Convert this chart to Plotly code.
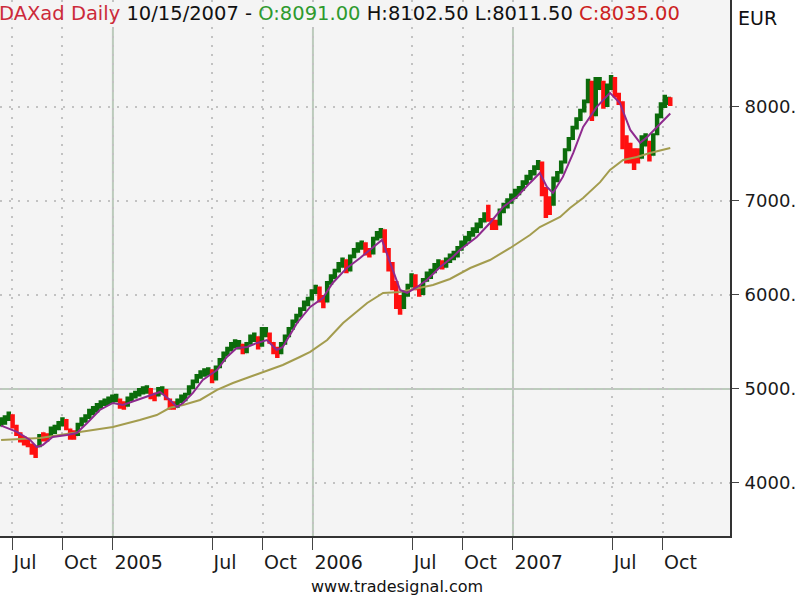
import pandas as pd
import plotly.graph_objects as go

# ---------------- data ----------------
bar_dates = [d.strftime("%Y-%m-%d") for d in pd.date_range("2004-06-11", "2007-10-12", freq="W-FRI")] + ["2007-10-15"]

bar_open = [4610,4640,4680,4720,4600,4520,4490,4440,4400,4390,4390,4530,4510,4490,4540,4580,4620,4670,4570,4520,
            4510,4610,4660,4700,4740,4770,4810,4840,4850,4870,4880,4890,4850,4820,4880,4920,4940,4960,4970,5000,
            4940,4930,4960,4990,4880,4850,4810,4860,4890,4940,5010,5070,5130,5150,5160,5200,5100,5230,5300,5370,
            5420,5450,5450,5470,5390,5480,5520,5550,5460,5570,5580,5490,5420,5380,5480,5560,5640,5710,5780,5850,
            5900,5950,6030,6080,5980,5930,6120,6180,6250,6300,6370,6260,6400,6460,6500,6550,6470,6440,6590,6620,
            6690,6480,6300,6100,5950,5860,5990,6090,6200,6080,6010,6150,6190,6240,6290,6360,6300,6350,6390,6410,
            6480,6530,6580,6630,6670,6720,6780,6940,6800,6780,6750,6880,6930,6980,7030,7070,7120,7180,7230,7280,
            7340,7400,7100,7020,6960,7210,7300,7410,7540,7660,7770,7860,7950,8050,8260,7910,8200,8260,8010,8190,
            8300,8130,8050,7650,7600,7540,7520,7460,7590,7620,7490,7710,7890,8000,8040,8091]
bar_high = [4700,4720,4760,4730,4620,4540,4500,4480,4420,4400,4520,4540,4530,4600,4620,4660,4700,4680,4580,4560,
            4640,4700,4730,4790,4820,4850,4880,4900,4920,4940,4950,4900,4870,4920,4960,4980,5010,5030,5040,5010,
            4960,5020,5030,5000,4900,4870,4900,4940,4960,5040,5100,5160,5200,5220,5230,5210,5250,5330,5400,5450,
            5500,5530,5520,5480,5500,5580,5600,5560,5660,5660,5600,5500,5450,5500,5580,5660,5740,5800,5870,5940,
            5980,6060,6110,6090,6000,6150,6220,6280,6350,6400,6380,6430,6500,6560,6580,6560,6500,6620,6680,6713,
            6700,6500,6350,6150,6000,6050,6120,6230,6220,6100,6180,6250,6280,6340,6380,6370,6400,6440,6470,6520,
            6580,6630,6680,6720,6770,6820,6880,6960,6820,6800,6920,6980,7030,7080,7130,7160,7220,7280,7330,7380,
            7437,7420,7150,7050,7260,7320,7430,7560,7680,7800,7890,7980,8080,8300,8280,8320,8320,8280,8250,8340,
            8320,8150,8060,7700,7620,7560,7560,7700,7720,7640,7720,7930,8050,8130,8110,8102.5]
bar_low = [4600,4620,4660,4580,4500,4430,4400,4380,4300,4266,4380,4440,4440,4480,4520,4560,4600,4560,4460,4460,
           4500,4600,4640,4680,4720,4750,4790,4820,4830,4850,4860,4790,4780,4810,4870,4900,4920,4940,4950,4890,
           4870,4920,4940,4880,4780,4780,4800,4850,4870,4930,5000,5060,5110,5130,5140,5060,5090,5220,5290,5350,
           5400,5430,5420,5370,5380,5470,5500,5420,5450,5550,5480,5370,5330,5370,5470,5550,5630,5700,5760,5830,
           5880,5940,6010,5920,5860,5920,6110,6170,6240,6290,6230,6250,6390,6450,6480,6420,6400,6430,6580,6600,
           6450,6250,6050,5850,5790,5850,5980,6080,6050,5980,6000,6140,6170,6230,6280,6270,6290,6340,6370,6400,
           6470,6520,6570,6620,6660,6710,6770,6780,6690,6690,6740,6870,6920,6970,7020,7060,7110,7170,7220,7270,
           7330,7050,6820,6850,6950,7200,7290,7400,7530,7650,7760,7850,7940,8040,7850,7900,8180,7980,8000,8180,
           8100,8020,7550,7400,7400,7330,7400,7450,7580,7420,7480,7700,7880,7990,8020,8011.5]
bar_close = [4680,4700,4730,4600,4520,4460,4430,4400,4330,4300,4500,4470,4480,4580,4600,4640,4680,4580,4490,4500,
             4620,4680,4710,4770,4800,4830,4860,4880,4900,4920,4930,4810,4820,4900,4940,4960,4990,5010,5020,4910,
             4900,5000,5010,4900,4820,4810,4880,4920,4940,5020,5080,5140,5180,5200,5210,5100,5230,5310,5380,5430,
             5480,5500,5490,5390,5480,5560,5580,5450,5630,5620,5500,5400,5360,5480,5560,5640,5720,5780,5850,5920,
             5960,6040,6090,5950,5900,6130,6200,6260,6330,6380,6260,6410,6480,6540,6560,6440,6430,6600,6660,6690,
             6480,6280,6100,5900,5850,6020,6100,6210,6070,6000,6160,6230,6260,6320,6360,6290,6380,6420,6450,6500,
             6560,6610,6660,6700,6750,6800,6860,6800,6720,6740,6900,6960,7010,7060,7110,7140,7200,7260,7310,7360,
             7410,7080,6880,6900,7230,7300,7410,7540,7660,7780,7870,7960,8060,8260,7900,8250,8280,8020,8220,8310,
             8130,8050,7600,7450,7480,7400,7460,7650,7680,7480,7700,7900,8030,8110,8090,8035]

fast_ma_dates = ["2004-06-11","2004-07-10","2004-08-03","2004-08-15","2004-08-26","2004-09-13","2004-10-09","2004-10-27",
                 "2004-11-15","2004-12-08","2005-01-01","2005-01-19","2005-02-14","2005-03-10","2005-03-28","2005-04-15",
                 "2005-04-28","2005-05-09","2005-05-27","2005-06-14","2005-07-10","2005-07-28","2005-08-15","2005-09-03",
                 "2005-09-21","2005-10-09","2005-10-27","2005-11-07","2005-12-03","2005-12-27","2006-01-19","2006-02-06",
                 "2006-03-04","2006-03-28","2006-04-21","2006-05-07","2006-05-22","2006-06-09","2006-06-22","2006-07-10",
                 "2006-07-28","2006-08-21","2006-09-13","2006-09-26","2006-10-27","2006-11-20","2006-12-14","2007-01-08",
                 "2007-02-01","2007-02-19","2007-03-04","2007-03-15","2007-04-02","2007-04-21","2007-05-09","2007-06-03",
                 "2007-06-27","2007-07-15","2007-08-03","2007-08-21","2007-09-03","2007-09-21","2007-10-15"]
fast_ma = [4610,4543,4458,4383,4404,4489,4511,4532,4638,4777,4851,4830,4883,4936,4968,4883,
           4809,4851,4958,5096,5202,5341,5436,5447,5490,5521,5415,5447,5702,5873,5968,6128,
           6288,6394,6511,6585,6341,6054,6022,6085,6160,6298,6404,6479,6617,6766,6937,7043,
           7192,7298,7149,7085,7256,7511,7788,8001,8150,8043,7756,7618,7681,7788,7930]

slow_ma_dates = ["2004-06-11","2004-08-21","2004-09-26","2004-11-02","2005-01-01","2005-02-19","2005-03-22","2005-04-15",
                 "2005-05-09","2005-06-09","2005-07-10","2005-08-08","2005-09-08","2005-10-09","2005-11-07","2005-12-08",
                 "2005-12-27","2006-01-27","2006-02-25","2006-04-10","2006-05-09","2006-06-09","2006-07-10","2006-08-08",
                 "2006-09-08","2006-10-15","2006-11-20","2006-12-27","2007-02-01","2007-02-19","2007-03-10","2007-03-28",
                 "2007-04-15","2007-05-09","2007-06-09","2007-06-27","2007-07-21","2007-08-15","2007-09-08","2007-10-15"]
slow_ma = [4457,4479,4510,4543,4596,4670,4723,4800,4830,4883,4990,5064,5128,5200,5255,5340,
           5394,5521,5702,5915,6021,6032,6074,6106,6170,6287,6372,6500,6638,6723,6777,6830,
           6925,7032,7200,7330,7436,7468,7510,7564]

x_tick_vals = ["2004-07-01","2004-10-01","2005-01-01","2005-07-01","2005-10-01","2006-01-01",
               "2006-07-01","2006-10-01","2007-01-01","2007-07-01","2007-10-01"]
x_tick_text = ["Jul","Oct","2005","Jul","Oct","2006","Jul","Oct","2007","Jul","Oct"]
year_lines = ["2005-01-01","2006-01-01","2007-01-01"]
y_tick_vals = [4000, 5000, 6000, 7000, 8000]
y_tick_text = ["4000.", "5000.", "6000.", "7000.", "8000."]
ref_level = 5000

# ---------------- figure ----------------
BG = "#f4f4f4"
FONT = "DejaVu Sans"
fig = go.Figure()
fig.add_trace(go.Scatter(x=slow_ma_dates, y=slow_ma, mode="lines",
                         line=dict(color="#a39c4e", width=2)))
fig.add_trace(go.Scatter(x=fast_ma_dates, y=fast_ma, mode="lines",
                         line=dict(color="#8e2a8e", width=2)))
fig.add_trace(go.Ohlc(x=bar_dates, open=bar_open, high=bar_high, low=bar_low, close=bar_close,
                      increasing=dict(line=dict(color="#0b6b0b", width=4.5)),
                      decreasing=dict(line=dict(color="#ff1010", width=4.5)),
                      tickwidth=0.08))

shapes = []
for d in year_lines:
    shapes.append(dict(type="line", xref="x", yref="paper", x0=d, x1=d, y0=0, y1=1,
                       line=dict(color="#bccbbc", width=2), layer="between"))
shapes.append(dict(type="line", xref="paper", yref="y", x0=0, x1=1, y0=ref_level, y1=ref_level,
                   line=dict(color="#bccbbc", width=2), layer="between"))
shapes.append(dict(type="rect", xref="paper", yref="paper", x0=0.0, x1=0.997, y0=0.946, y1=1.0,
                   fillcolor=BG, line=dict(width=0), layer="between"))

hdr = ("<span style='color:#cc2a3a'>DAXad Daily</span> "
       f"{bar_dates[-1][5:7]}/{bar_dates[-1][8:10]}/{bar_dates[-1][0:4]} - "
       f"<span style='color:#2e9a2e'>O:{bar_open[-1]:.2f}</span> "
       f"H:{bar_high[-1]:.2f} L:{bar_low[-1]:.2f} "
       f"<span style='color:#cc2222'>C:{bar_close[-1]:.2f}</span>")

fig.update_layout(
    width=800, height=600,
    margin=dict(l=0, r=70, t=0, b=64, autoexpand=False),
    paper_bgcolor="white", plot_bgcolor=BG,
    showlegend=False,
    font=dict(family=FONT, size=19, color="#1a1a1a"),
    shapes=shapes,
    annotations=[
        dict(text=hdr, xref="paper", yref="paper", x=-0.004, y=0.974, xanchor="left", yanchor="middle",
             showarrow=False, font=dict(family=FONT, size=19.5, color="#111")),
        dict(text="EUR", xref="paper", yref="paper", x=1.008, y=0.966, xanchor="left", yanchor="middle",
             showarrow=False, font=dict(family=FONT, size=19, color="#111")),
        dict(text="www.tradesignal.com", xref="paper", yref="paper", x=0.544, y=-0.095,
             xanchor="center", yanchor="middle", showarrow=False,
             font=dict(family=FONT, size=16, color="#111")),
    ],
)
fig.update_xaxes(type="date", range=["2004-06-09", "2008-02-01"],
                 tickvals=x_tick_vals, ticktext=x_tick_text, tickangle=0, automargin=False,
                 ticks="outside", ticklen=12, tickwidth=1, tickcolor="#444",
                 ticklabelposition="outside right", ticklabelstandoff=8,
                 showgrid=True, gridcolor="#c2c2c2", gridwidth=2, griddash="2px,7px",
                 showline=True, linecolor="#333", linewidth=2, zeroline=False,
                 rangeslider=dict(visible=False), fixedrange=True)
fig.update_yaxes(side="right", range=[3436, 9138], automargin=False,
                 tickvals=y_tick_vals, ticktext=y_tick_text, tickfont=dict(size=18),
                 ticks="outside", ticklen=7, tickwidth=1, tickcolor="#444",
                 ticklabelstandoff=2, fixedrange=True,
                 showgrid=True, gridcolor="#c2c2c2", gridwidth=2, griddash="2px,7px",
                 showline=True, linecolor="#333", linewidth=2, zeroline=False)

fig.write_html("out.html", config={"displayModeBar": False, "staticPlot": True},
               post_script="document.body.style.margin='0';document.body.style.padding='0';")
